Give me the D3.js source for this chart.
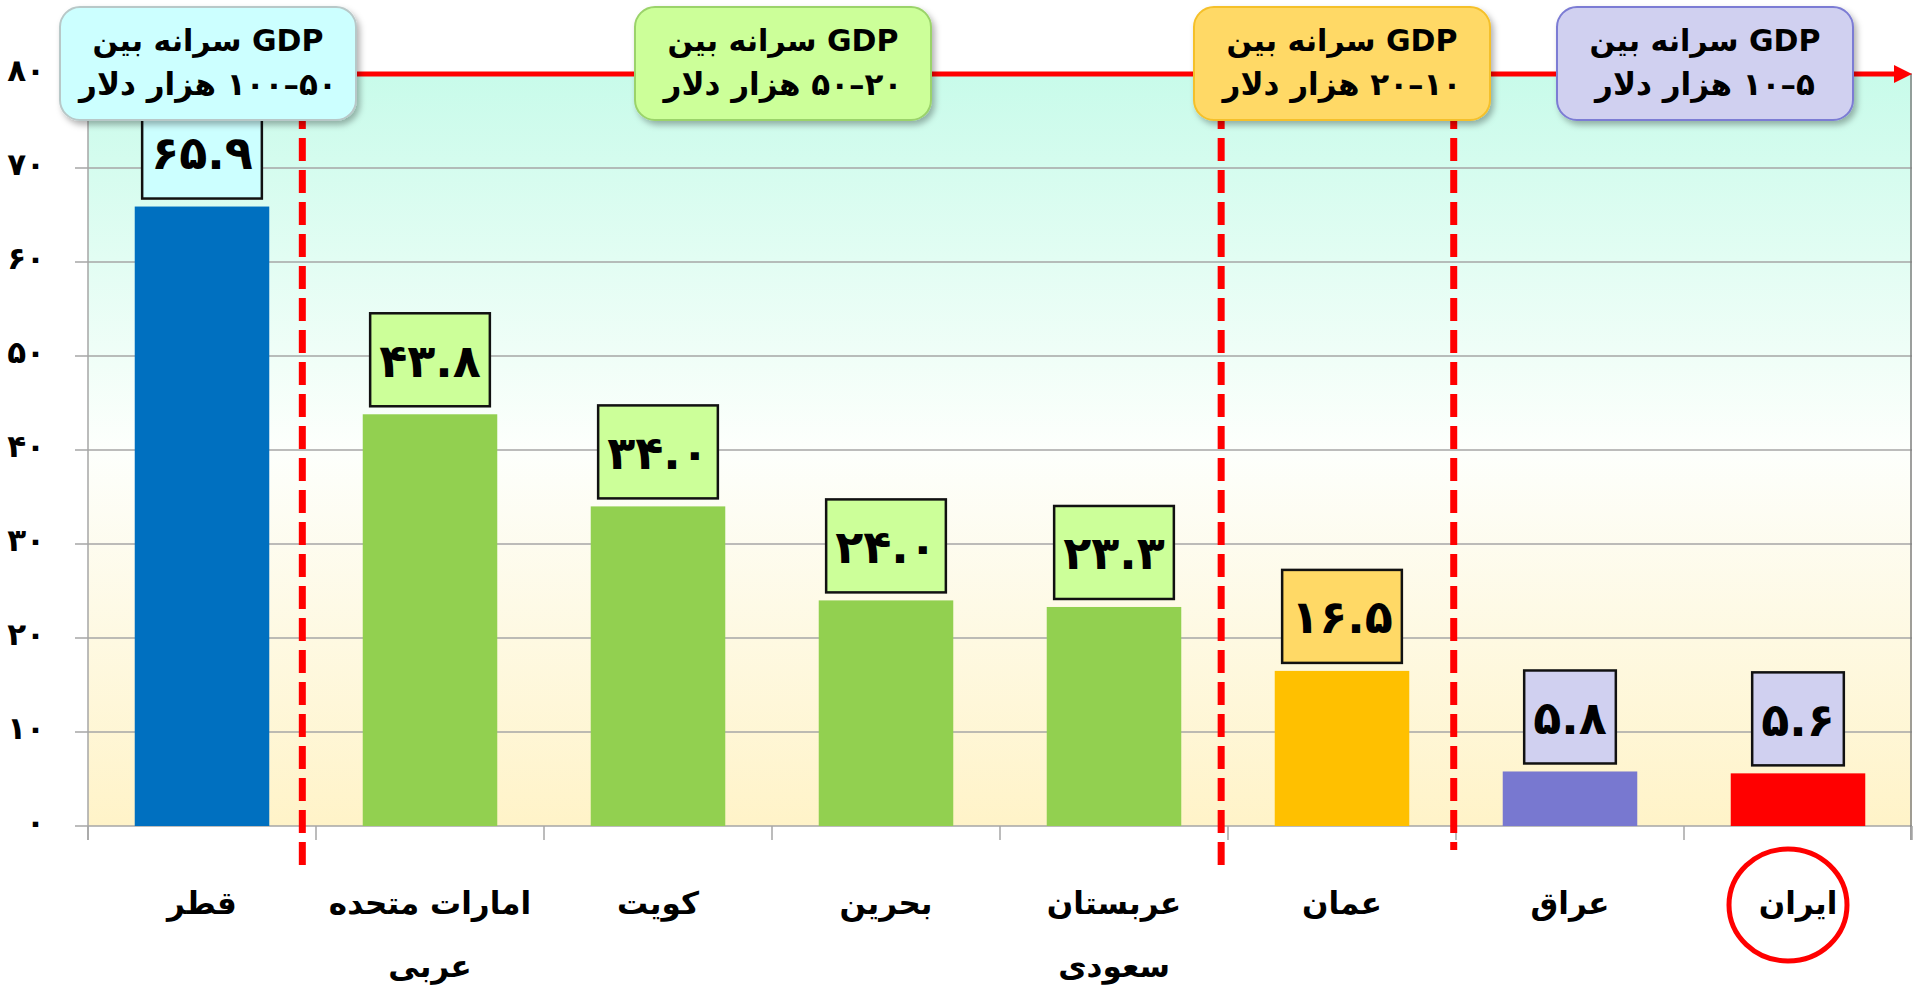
<html lang="fa">
<head>
<meta charset="utf-8">
<title>GDP per capita</title>
<script src="https://cdn.jsdelivr.net/npm/d3@7"></script>
<style>
  body { margin: 0; background: white; }
  svg { display: block; }
</style>
</head>
<body></body>
<script type="text/javascript">

//****************************************************************************************************************************//
// Data

var categories = ["قطر", "امارات متحده عربی", "کویت", "بحرین", "عربستان سعودی", "عمان", "عراق", "ایران"];
var categoryLines = [["قطر"], ["امارات متحده", "عربی"], ["کویت"], ["بحرین"], ["عربستان", "سعودی"], ["عمان"], ["عراق"], ["ایران"]];
var values = [65.9, 43.8, 34.0, 24.0, 23.3, 16.5, 5.8, 5.6];
var valueLabels = ["۶۵.۹", "۴۳.۸", "۳۴.۰", "۲۴.۰", "۲۳.۳", "۱۶.۵", "۵.۸", "۵.۶"];
var groupOf = [0, 1, 1, 1, 1, 2, 3, 3];
var groupRanges = ["۵۰–۱۰۰", "۲۰–۵۰", "۱۰–۲۰", "۵–۱۰"];
var yTicks = [0, 10, 20, 30, 40, 50, 60, 70, 80];
var yTickLabels = ["۰", "۱۰", "۲۰", "۳۰", "۴۰", "۵۰", "۶۰", "۷۰", "۸۰"];

// where the dashed group separators sit, in band units from the left edge
var dividerPos = [0.94, 4.97, 5.99];

//****************************************************************************************************************************//
// Styles

var barColors = ["#0070C0", "#92D050", "#92D050", "#92D050", "#92D050", "#FFC000", "#7878D0", "#FF0000"];
var groupFills = ["#CCFFFF", "#CCFF99", "#FFD966", "#D0D0F0"];
var groupStrokes = ["#B8C8C8", "#9BD36B", "#F5C02A", "#7C7CD4"];
var headerShift = [6, 11, 0, 21];
var persian = "'DejaVu Sans', sans-serif";

var width = 1918, height = 990;
var plot = { left: 88, right: 1912, top: 74, bottom: 826 };

var canvas = d3.select("body")
            .append("svg")
            .attr("width", width)
            .attr("height", height);

var defs = canvas.append("defs");

var grad = defs.append("linearGradient")
            .attr("id", "bg")
            .attr("x1", 0).attr("y1", 0)
            .attr("x2", 0).attr("y2", 1);
grad.append("stop").attr("offset", "0%").attr("stop-color", "#C8FBEA");
grad.append("stop").attr("offset", "50%").attr("stop-color", "#FDFFFC");
grad.append("stop").attr("offset", "100%").attr("stop-color", "#FFF3C8");

defs.append("filter")
        .attr("id", "shadow")
        .attr("x", "-10%").attr("y", "-10%")
        .attr("width", "130%").attr("height", "140%")
    .append("feDropShadow")
        .attr("dx", 3).attr("dy", 4)
        .attr("stdDeviation", 3)
        .attr("flood-color", "#000")
        .attr("flood-opacity", 0.3);

//****************************************************************************************************************************//
// Scales

var x = d3.scaleBand()
        .domain(categories)
        .range([plot.left, plot.right])
        .paddingInner(0.41)
        .paddingOuter(0.205);

var y = d3.scaleLinear()
        .domain([0, 80])
        .range([plot.bottom, plot.top]);

var step = x.step();
var bandStart = function(i){ return plot.left + i*step; };
var bandCenter = function(i){ return x(categories[i]) + x.bandwidth()/2; };

//****************************************************************************************************************************//
// Plot background and grid

canvas.append("rect")
        .attr("x", plot.left)
        .attr("y", y(80))
        .attr("width", plot.right - plot.left)
        .attr("height", y(0) - y(80))
        .attr("fill", "url(#bg)");

canvas.append("g")
    .selectAll("line")
    .data(yTicks)
    .enter().append("line")
        .attr("x1", plot.left - 13)
        .attr("x2", plot.right)
        .attr("y1", function(d){ return y(d); })
        .attr("y2", function(d){ return y(d); })
        .attr("stroke", "#A6A6A6")
        .attr("stroke-width", 1.5);

canvas.append("line")
        .attr("x1", plot.left).attr("x2", plot.left)
        .attr("y1", y(80)).attr("y2", y(0) + 14)
        .attr("stroke", "#A6A6A6").attr("stroke-width", 1.5);

canvas.append("line")
        .attr("x1", plot.right - 1).attr("x2", plot.right - 1)
        .attr("y1", y(80)).attr("y2", y(0) + 14)
        .attr("stroke", "#7F7F7F").attr("stroke-width", 1.5);

canvas.append("g")
    .selectAll("line")
    .data(d3.range(categories.length + 1))
    .enter().append("line")
        .attr("x1", function(i){ return bandStart(i); })
        .attr("x2", function(i){ return bandStart(i); })
        .attr("y1", y(0))
        .attr("y2", y(0) + 14)
        .attr("stroke", "#A6A6A6")
        .attr("stroke-width", 1.5);

//****************************************************************************************************************************//
// Bars and value boxes

canvas.append("g")
    .selectAll("rect")
    .data(values)
    .enter().append("rect")
        .attr("x", function(d, i){ return x(categories[i]); })
        .attr("y", function(d){ return y(d); })
        .attr("width", x.bandwidth())
        .attr("height", function(d){ return y(0) - y(d); })
        .attr("fill", function(d, i){ return barColors[i]; });

var boxes = canvas.append("g")
    .selectAll("g")
    .data(values)
    .enter().append("g");

boxes.append("rect")
        .attr("y", function(d){ return y(d) - 8 - 93; })
        .attr("height", 93)
        .attr("fill", function(d, i){ return groupFills[groupOf[i]]; })
        .attr("stroke", "#111")
        .attr("stroke-width", 2.5);

boxes.append("text")
        .attr("x", function(d, i){ return bandCenter(i); })
        .attr("y", function(d){ return y(d) - 8 - 93/2 + 17; })
        .attr("text-anchor", "middle")
        .style("font-family", persian)
        .style("font-weight", "bold")
        .style("font-size", "46px")
        .attr("fill", "#000")
        .text(function(d, i){ return valueLabels[i]; });

boxes.each(function(d, i){
    var g = d3.select(this);
    var w = g.select("text").node().getComputedTextLength() + 18;
    g.select("rect")
        .attr("x", bandCenter(i) - w/2)
        .attr("width", w);
});

//****************************************************************************************************************************//
// Group separators and arrow

canvas.append("g")
    .selectAll("line")
    .data(dividerPos)
    .enter().append("line")
        .attr("x1", function(d){ return plot.left + d*step; })
        .attr("x2", function(d){ return plot.left + d*step; })
        .attr("y1", y(80))
        .attr("y2", function(d, i){ return i == 2 ? y(0) + 24 : y(0) + 41; })
        .attr("stroke", "#FF0000")
        .attr("stroke-width", 7)
        .attr("stroke-dasharray", "23,9");

canvas.append("line")
        .attr("x1", plot.left)
        .attr("x2", plot.right - 16)
        .attr("y1", y(80))
        .attr("y2", y(80))
        .attr("stroke", "#FF0000")
        .attr("stroke-width", 5);

canvas.append("path")
        .attr("d", "M" + (plot.right - 18) + "," + (y(80) - 9) +
                   "L" + plot.right + "," + y(80) +
                   "L" + (plot.right - 18) + "," + (y(80) + 9) + "Z")
        .attr("fill", "#FF0000");

//****************************************************************************************************************************//
// Group headers

var groupCenters = groupRanges.map(function(r, gi){
    var idx = d3.range(categories.length).filter(function(i){ return groupOf[i] == gi; });
    return d3.mean(idx, bandCenter) + headerShift[gi];
});

var headers = canvas.append("g")
    .selectAll("g")
    .data(groupRanges)
    .enter().append("g")
        .attr("transform", function(d, gi){ return "translate(" + groupCenters[gi] + ",7)"; });

headers.append("rect")
        .attr("x", -148)
        .attr("y", 0)
        .attr("width", 296)
        .attr("height", 113)
        .attr("rx", 20)
        .attr("ry", 20)
        .attr("fill", function(d, gi){ return groupFills[gi]; })
        .attr("stroke", function(d, gi){ return groupStrokes[gi]; })
        .attr("stroke-width", 2)
        .attr("filter", "url(#shadow)");

headers.append("text")
        .attr("x", 0)
        .attr("y", 44)
        .attr("direction", "rtl")
        .attr("text-anchor", "middle")
        .style("font-family", persian)
        .style("font-weight", "bold")
        .style("font-size", "30px")
        .text("GDP سرانه بین");

headers.append("text")
        .attr("x", 0)
        .attr("y", 88)
        .attr("direction", "rtl")
        .attr("text-anchor", "middle")
        .style("font-family", persian)
        .style("font-weight", "bold")
        .style("font-size", "31px")
        .text(function(d){ return d + " هزار دلار"; });

//****************************************************************************************************************************//
// Axis labels

canvas.append("g")
    .selectAll("text")
    .data(yTicks)
    .enter().append("text")
        .attr("x", 45)
        .attr("y", function(d){ return y(d) + 7; })
        .attr("text-anchor", "end")
        .style("font-family", persian)
        .style("font-weight", "bold")
        .style("font-size", "31px")
        .text(function(d, i){ return yTickLabels[i]; });

var catLabels = canvas.append("g")
    .selectAll("text")
    .data(categoryLines)
    .enter().append("text")
        .attr("direction", "rtl")
        .attr("text-anchor", "middle")
        .style("font-family", persian)
        .style("font-weight", "bold")
        .style("font-size", "31px");

catLabels.selectAll("tspan")
    .data(function(d, i){ return d.map(function(t){ return { t: t, i: i }; }); })
    .enter().append("tspan")
        .attr("x", function(d){ return bandCenter(d.i); })
        .attr("y", function(d, j){ return y(0) + 88 + j*63; })
        .text(function(d){ return d.t; });

canvas.append("ellipse")
        .attr("cx", bandCenter(categories.length - 1) - 10)
        .attr("cy", y(0) + 79)
        .attr("rx", 59)
        .attr("ry", 56)
        .attr("fill", "none")
        .attr("stroke", "#FF0000")
        .attr("stroke-width", 5);

</script>
</html>
